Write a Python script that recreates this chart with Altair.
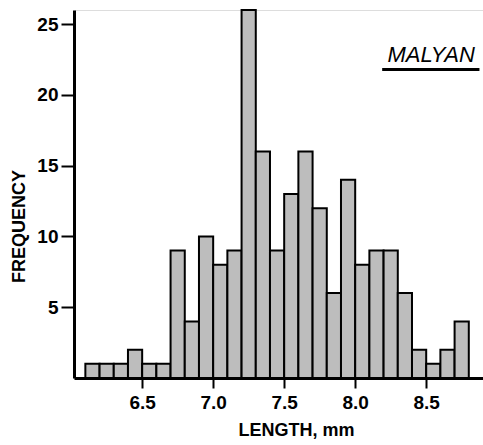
import altair as alt
import pandas as pd

# Histogram of lengths (mm), 0.1 mm bins, left edges 6.1 ... 8.7
bin_start = [6.1, 6.2, 6.3, 6.4, 6.5, 6.6, 6.7, 6.8, 6.9, 7.0, 7.1, 7.2, 7.3, 7.4,
             7.5, 7.6, 7.7, 7.8, 7.9, 8.0, 8.1, 8.2, 8.3, 8.4, 8.5, 8.6, 8.7]
frequency = [1, 1, 1, 2, 1, 1, 9, 4, 10, 8, 9, 26, 16, 9,
             13, 16, 12, 6, 14, 8, 9, 9, 6, 2, 1, 2, 4]
bin_width = 0.1

x_ticks = [6.5, 7.0, 7.5, 8.0, 8.5]
y_ticks = [5, 10, 15, 20, 25]

site_label = "MALYAN"

df = pd.DataFrame({"start": bin_start, "count": frequency})
df["end"] = df["start"] + bin_width
df["base"] = 0

FONT = "Liberation Sans"

x_scale = alt.Scale(domain=[6.02, 8.9], nice=False, zero=False)
y_scale = alt.Scale(domain=[0, 26], nice=False)

bars = alt.Chart(df).mark_bar(
    fill="#bdbdbd", stroke="black", strokeWidth=2
).encode(
    x=alt.X(
        "start:Q",
        scale=x_scale,
        axis=alt.Axis(
            values=x_ticks,
            format=".1f",
            title="LENGTH, mm",
            grid=False,
            domainColor="black",
            domainWidth=3,
            tickColor="black",
            tickWidth=2,
            tickSize=10,
            labelFont=FONT,
            labelFontSize=19,
            labelFontWeight="bold",
            labelColor="black",
            labelPadding=5,
            titleFont=FONT,
            titleFontSize=18,
            titleFontWeight="bold",
            titleColor="black",
            titleX=222,
            titleY=57,
            titleAlign="center",
            titleBaseline="alphabetic",
        ),
    ),
    x2="end:Q",
    y=alt.Y(
        "count:Q",
        scale=y_scale,
        axis=alt.Axis(
            values=y_ticks,
            title="FREQUENCY",
            grid=False,
            domainColor="black",
            domainWidth=3,
            tickColor="black",
            tickWidth=2,
            tickSize=13,
            labelFont=FONT,
            labelFontSize=19,
            labelFontWeight="bold",
            labelColor="black",
            labelPadding=3,
            titleFont=FONT,
            titleFontSize=18,
            titleFontWeight="bold",
            titleColor="black",
            titleAngle=-90,
            titleX=-55,
            titleY=216,
            titleAlign="center",
            titleBaseline="middle",
        ),
    ),
    y2="base:Q",
)

label_df = pd.DataFrame({"x": [8.535], "y": [22.3], "text": [site_label]})
label = alt.Chart(label_df).mark_text(
    font=FONT, fontSize=22, fontStyle="italic", color="black",
    align="center", baseline="alphabetic",
).encode(x=alt.X("x:Q", scale=x_scale), y=alt.Y("y:Q", scale=y_scale), text="text:N")

underline_df = pd.DataFrame({"x": [8.19], "x2": [8.875], "y": [21.8]})
underline = alt.Chart(underline_df).mark_rule(color="black", strokeWidth=3).encode(
    x=alt.X("x:Q", scale=x_scale), x2="x2:Q", y=alt.Y("y:Q", scale=y_scale)
)

chart = alt.layer(bars, label, underline).properties(
    width=409,
    height=368,
    autosize=alt.AutoSizeParams(type="none"),
    padding={"left": 74, "top": 10, "right": 0, "bottom": 67},
).configure_view(stroke=None).configure(background="white")

chart.save("out.html", embed_options={"renderer": "svg", "actions": False})
